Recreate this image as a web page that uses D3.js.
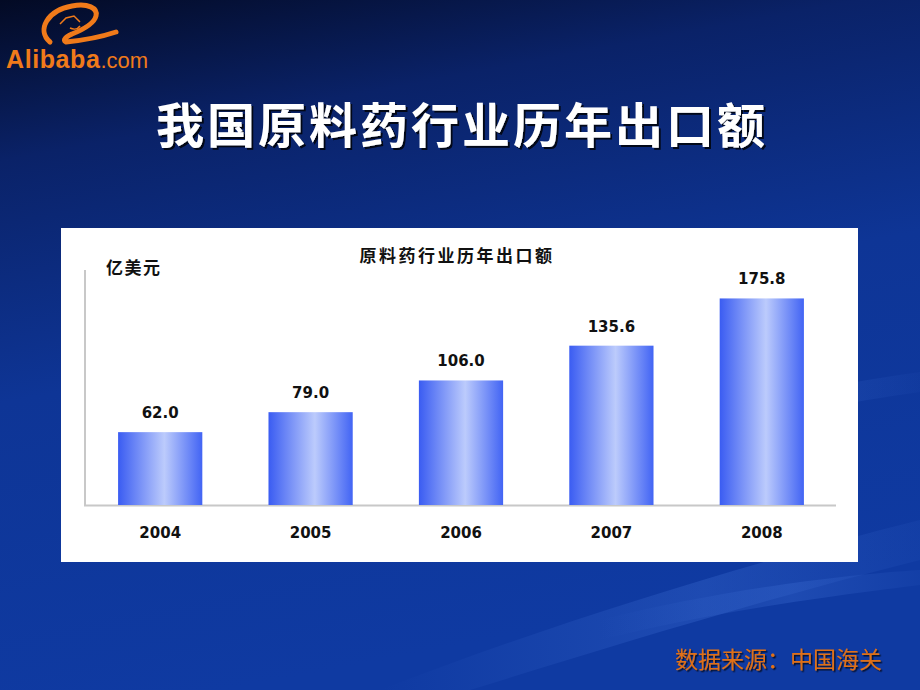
<!DOCTYPE html>
<html><head><meta charset="utf-8">
<script src="https://cdn.jsdelivr.net/npm/d3@7"></script>
<style>html,body{margin:0;padding:0;background:#0b2a80;}svg{display:block;}</style>
</head><body>
<svg id="c" width="920" height="690"></svg>
<script>
const years = ["2004","2005","2006","2007","2008"];
const exportValues = [62.0, 79.0, 106.0, 135.6, 175.8];
const valueLabels = ["62.0","79.0","106.0","135.6","175.8"];

const svg = d3.select("#c");
const defs = svg.append("defs");

// background gradient
const bg = defs.append("linearGradient").attr("id","bg").attr("x1",0).attr("y1",0).attr("x2",0.25).attr("y2",1);
bg.append("stop").attr("offset","0%").attr("stop-color","#030a24");
bg.append("stop").attr("offset","22%").attr("stop-color","#0a2268");
bg.append("stop").attr("offset","55%").attr("stop-color","#0e3596");
bg.append("stop").attr("offset","100%").attr("stop-color","#0f3aa2");
svg.append("rect").attr("width",920).attr("height",690).attr("fill","url(#bg)");

// soft light streaks
const st = defs.append("linearGradient").attr("id","streak").attr("x1",0).attr("y1",0).attr("x2",1).attr("y2",0);
st.append("stop").attr("offset","0%").attr("stop-color","#3a6ad0").attr("stop-opacity",0);
st.append("stop").attr("offset","60%").attr("stop-color","#3a6ad0").attr("stop-opacity",0.35);
st.append("stop").attr("offset","100%").attr("stop-color","#3a6ad0").attr("stop-opacity",0.1);
svg.append("path").attr("d","M380,690 C560,620 760,560 920,520 L920,560 C760,600 600,650 470,690 Z").attr("fill","url(#streak)");
svg.append("path").attr("d","M600,620 C720,590 840,575 920,570 L920,585 C840,595 720,610 600,640 Z").attr("fill","url(#streak)");
svg.append("path").attr("d","M700,420 C780,395 860,380 920,372 L920,392 C860,400 780,415 700,440 Z").attr("fill","url(#streak)").attr("opacity",0.6);

// Alibaba logo
const logo = svg.append("g");
logo.append("path")
  .attr("d","M50,42 C36,30 48,10 72,6 C88,3 98,8 96,16 C94,24 82,30 72,34 C66,37 62,40 66,42 C86,40 104,36 116,32")
  .attr("fill","none").attr("stroke","#f07a1a").attr("stroke-width",5).attr("stroke-linecap","round");
logo.append("path").attr("d","M60,24 L66,18 L74,16 L80,22").attr("fill","none").attr("stroke","#f07a1a").attr("stroke-width",1.5);
logo.append("path").attr("d","M70,28 C74,30 78,29 80,26").attr("fill","none").attr("stroke","#f07a1a").attr("stroke-width",1.5);
const lt = logo.append("text").attr("x",6).attr("y",68).attr("font-family","Liberation Sans, Arial, sans-serif").attr("fill","#f07a1a");
lt.append("tspan").attr("font-weight","bold").attr("font-size",25).attr("letter-spacing",0.6).text("Alibaba");
lt.append("tspan").attr("font-size",22).attr("letter-spacing",0).text(".com");

// main title
const sh = defs.append("filter").attr("id","sh").attr("x","-10%").attr("y","-10%").attr("width","130%").attr("height","130%");
sh.append("feDropShadow").attr("dx",2).attr("dy",2).attr("stdDeviation",0.5).attr("flood-color","#000").attr("flood-opacity",0.8);
svg.append("text").attr("x",462).attr("y",143).attr("text-anchor","middle")
  .attr("font-family","Noto Sans CJK SC, sans-serif").attr("font-weight","bold").attr("font-size",48)
  .attr("letter-spacing",3)
  .attr("fill","#ffffff").attr("filter","url(#sh)").text("我国原料药行业历年出口额");

// white panel
svg.append("rect").attr("x",61).attr("y",228).attr("width",797).attr("height",334).attr("fill","#ffffff");

// bar gradient
const bgr = defs.append("linearGradient").attr("id","bar").attr("x1",0).attr("y1",0).attr("x2",1).attr("y2",0);
bgr.append("stop").attr("offset","0%").attr("stop-color","#3a5cf2");
bgr.append("stop").attr("offset","55%").attr("stop-color","#bccbfc");
bgr.append("stop").attr("offset","100%").attr("stop-color","#4264f4");

const x = d3.scaleBand().domain(years).range([85, 837]).paddingInner(0.44).paddingOuter(0.22);
const y = d3.scaleLinear().domain([0, 200]).range([505, 270]);

const font = "DejaVu Sans, Verdana, sans-serif";

// axes lines
svg.append("line").attr("x1",85).attr("x2",85).attr("y1",y(200)).attr("y2",y(0)).attr("stroke","#c8c8c8").attr("stroke-width",2);
svg.append("line").attr("x1",84).attr("x2",836).attr("y1",y(0)+0.5).attr("y2",y(0)+0.5).attr("stroke","#c8c8c8").attr("stroke-width",2);

// bars
svg.selectAll("rect.bar").data(exportValues).join("rect").attr("class","bar")
  .attr("x",(d,i)=>x(years[i])).attr("width",x.bandwidth())
  .attr("y",d=>y(d)).attr("height",d=>y(0)-y(d)).attr("fill","url(#bar)");

// value labels
svg.selectAll("text.val").data(exportValues).join("text").attr("class","val")
  .attr("x",(d,i)=>x(years[i])+x.bandwidth()/2).attr("y",d=>y(d)-14)
  .attr("text-anchor","middle").attr("font-family",font).attr("font-weight","bold").attr("font-size",15)
  .attr("fill","#111").text((d,i)=>valueLabels[i]);

// x axis labels via axis
const xa = svg.append("g").attr("transform",`translate(0,${y(0)})`).call(d3.axisBottom(x).tickSize(0).tickPadding(22));
xa.select(".domain").remove();
xa.selectAll("text").attr("font-family",font).attr("font-weight","bold").attr("font-size",15).attr("fill","#111");

// chart title and unit
svg.append("text").attr("x",457).attr("y",262).attr("text-anchor","middle")
  .attr("font-family","Noto Sans CJK SC, sans-serif").attr("font-weight","bold").attr("font-size",17).attr("letter-spacing",2.5).attr("fill","#111")
  .text("原料药行业历年出口额");
svg.append("text").attr("x",106).attr("y",274)
  .attr("font-family","Noto Sans CJK SC, sans-serif").attr("font-weight","bold").attr("font-size",17).attr("letter-spacing",1.5).attr("fill","#111")
  .text("亿美元");

// source note
const sh2 = defs.append("filter").attr("id","sh2");
sh2.append("feDropShadow").attr("dx",1.5).attr("dy",1.5).attr("stdDeviation",0.3).attr("flood-color","#000").attr("flood-opacity",0.7);
svg.append("text").attr("x",882).attr("y",668).attr("text-anchor","end")
  .attr("font-family","Noto Sans CJK SC, sans-serif").attr("font-size",23).attr("fill","#e07018").attr("filter","url(#sh2)")
  .text("数据来源：中国海关");
</script>
</body></html>
